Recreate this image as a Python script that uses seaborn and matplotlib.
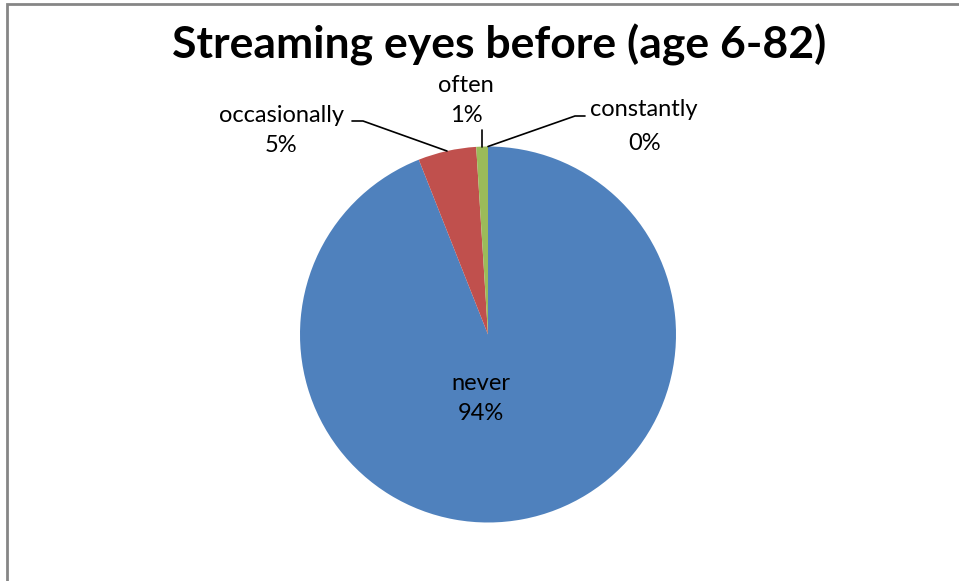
import numpy as np
import matplotlib
matplotlib.use("Agg")
import matplotlib.pyplot as plt
import seaborn as sns
from matplotlib.patches import Rectangle

categories = ["never", "occasionally", "often", "constantly"]
values = [94, 5, 1, 0]
pct_labels = ["94%", "5%", "1%", "0%"]
title = "Streaming eyes before (age 6-82)"

sns.set_style("white")
plt.rcParams['font.family'] = ['Lato', 'DejaVu Sans']
plt.rcParams['text.color'] = 'black'
colors = ["#4F81BD", "#C0504D", "#9BBB59", "#8064A2"]

W, H = 959, 581
fig = plt.figure(figsize=(W / 100, H / 100), dpi=100)
ax = fig.add_axes([0, 0, 1, 1])

cx, cy, r = 488, H - 334.5, 188
ax.pie(values, colors=colors, startangle=90, counterclock=False,
       center=(cx, cy), radius=r, frame=True,
       wedgeprops=dict(linewidth=0))
ax.set_xlim(0, W)
ax.set_ylim(0, H)
ax.axis("off")

# border
fig.patches.append(Rectangle((7 / W, -0.1), 1.2, (H - 4) / H + 0.1,
                             transform=fig.transFigure, fill=False,
                             edgecolor="#868686", linewidth=2))

# mid angles
tot = sum(values)
angles = []
start = 90.0
for v in values:
    sweep = 360.0 * v / tot
    angles.append(np.deg2rad(start - sweep / 2))
    start -= sweep

def edge(i):
    return cx + r * np.cos(angles[i]), cy + r * np.sin(angles[i])

fs = 17
tc = "black"
# never inside
ax.text(481, H - 383, categories[0], ha="center", va="center", fontsize=fs, color=tc)
ax.text(481, H - 414, pct_labels[0], ha="center", va="center", fontsize=fs, color=tc)

# occasionally
ex, ey = edge(1)
ax.plot([352, 363, ex], [H - 121, H - 121, ey], color="black", lw=1.2)
ax.text(281, H - 115, categories[1], ha="center", va="center", fontsize=fs, color=tc)
ax.text(281, H - 146, pct_labels[1], ha="center", va="center", fontsize=fs, color=tc)

# often
ex, ey = edge(2)
ax.plot([ex, ex], [H - 130, ey], color="black", lw=1.2)
ax.text(466, H - 86, categories[2], ha="center", va="center", fontsize=fs, color=tc)
ax.text(466, H - 116, pct_labels[2], ha="center", va="center", fontsize=fs, color=tc)

# constantly
ex, ey = edge(3)
ax.plot([ex, 575, 585], [ey, H - 116, H - 116], color="black", lw=1.2)
ax.text(644, H - 110, categories[3], ha="center", va="center", fontsize=fs, color=tc)
ax.text(645, H - 143, pct_labels[3], ha="center", va="center", fontsize=fs, color=tc)

ax.text(499, H - 45, title, ha="center", va="center", fontsize=32,
        fontweight="bold", color=tc)

fig.savefig("out.png", dpi=100)
